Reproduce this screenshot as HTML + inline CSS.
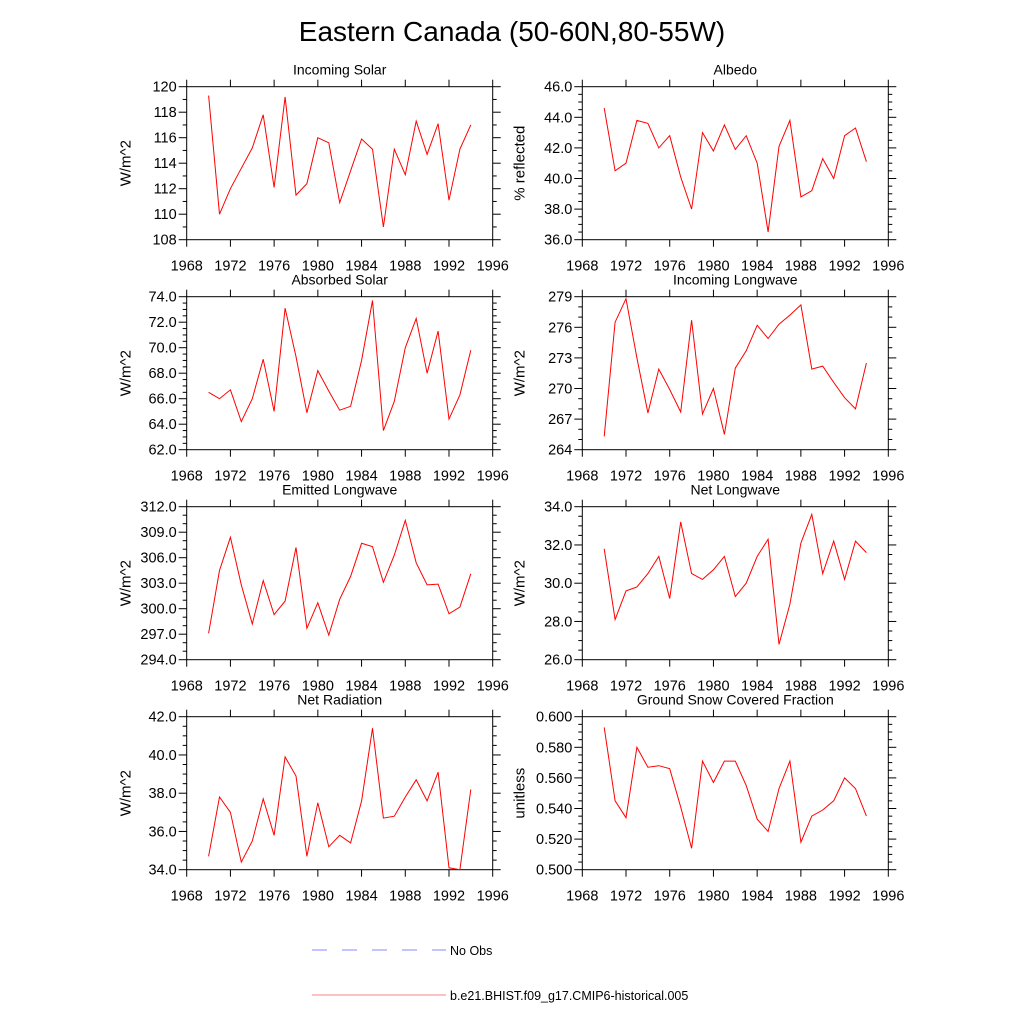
<!DOCTYPE html>
<html><head><meta charset="utf-8"><style>
html,body{margin:0;padding:0;background:#fff;}
svg{display:block;font-family:"Liberation Sans",Arial,sans-serif;}
</style></head><body>
<svg id="fig" width="1024" height="1024" viewBox="0 0 1024 1024" xmlns="http://www.w3.org/2000/svg">
<text x="512" y="41" text-anchor="middle" font-size="28">Eastern Canada (50-60N,80-55W)</text>
<g>
<line x1="312" y1="950" x2="446" y2="950" stroke="#6060ff" stroke-width="0.8" stroke-dasharray="15,15"/>
<text x="450" y="955" font-size="12.5">No Obs</text>
<line x1="312" y1="995" x2="446" y2="995" stroke="#ff8080" stroke-width="1"/>
<text x="450" y="1000" font-size="12.5">b.e21.BHIST.f09_g17.CMIP6-historical.005</text>
</g>
</svg>
<script>
const years = [1970,1971,1972,1973,1974,1975,1976,1977,1978,1979,1980,1981,1982,1983,1984,1985,1986,1987,1988,1989,1990,1991,1992,1993,1994];
const xTicks = [1968,1972,1976,1980,1984,1988,1992,1996];
const titles = ["Incoming Solar","Albedo","Absorbed Solar","Incoming Longwave","Emitted Longwave","Net Longwave","Net Radiation","Ground Snow Covered Fraction"];
const yLabels = ["W/m^2","% reflected","W/m^2","W/m^2","W/m^2","W/m^2","W/m^2","unitless"];
const incomingSolar = [119.3,110.0,112.0,113.6,115.2,117.8,112.1,119.2,111.5,112.4,116.0,115.6,110.9,113.4,115.9,115.1,109.0,115.1,113.1,117.3,114.7,117.1,111.1,115.1,117.0];
const albedo = [44.6,40.5,41.0,43.8,43.6,42.0,42.8,40.1,38.0,43.0,41.8,43.5,41.9,42.8,41.0,36.5,42.1,43.8,38.8,39.2,41.3,40.0,42.8,43.3,41.1];
const absorbedSolar = [66.5,66.0,66.7,64.2,66.0,69.1,65.0,73.1,69.3,64.9,68.2,66.6,65.1,65.4,69.0,73.7,63.5,65.8,70.0,72.3,68.0,71.3,64.4,66.3,69.8];
const incomingLW = [265.3,276.5,278.8,273.0,267.6,271.9,269.9,267.7,276.7,267.5,270.0,265.5,272.0,273.7,276.2,274.9,276.3,277.2,278.2,271.9,272.2,270.6,269.1,268.0,272.5];
const emittedLW = [297.1,304.5,308.4,302.8,298.2,303.3,299.3,300.9,307.2,297.7,300.7,296.9,301.1,303.8,307.7,307.3,303.1,306.3,310.4,305.4,302.8,302.9,299.4,300.2,304.1];
const netLW = [31.8,28.1,29.6,29.8,30.5,31.4,29.2,33.2,30.5,30.2,30.7,31.4,29.3,30.0,31.4,32.3,26.8,28.9,32.1,33.6,30.5,32.2,30.2,32.2,31.6];
const netRad = [34.7,37.8,37.0,34.4,35.5,37.7,35.8,39.9,38.9,34.7,37.5,35.2,35.8,35.4,37.6,41.4,36.7,36.8,37.8,38.7,37.6,39.1,34.1,34.0,38.2];
const snowFrac = [0.593,0.545,0.534,0.580,0.567,0.568,0.566,0.541,0.514,0.571,0.557,0.571,0.571,0.555,0.533,0.525,0.553,0.571,0.518,0.535,0.539,0.545,0.560,0.553,0.535];
const yTicks0 = [108,110,112,114,116,118,120];
const yTicks1 = [36,38,40,42,44,46];
const yTicks2 = [62,64,66,68,70,72,74];
const yTicks3 = [264,267,270,273,276,279];
const yTicks4 = [294,297,300,303,306,309,312];
const yTicks5 = [26,28,30,32,34];
const yTicks6 = [34,36,38,40,42];
const yTicks7 = [0.5,0.52,0.54,0.56,0.58,0.6];
const series = [incomingSolar,albedo,absorbedSolar,incomingLW,emittedLW,netLW,netRad,snowFrac];
const yTickSets = [yTicks0,yTicks1,yTicks2,yTicks3,yTicks4,yTicks5,yTicks6,yTicks7];
const decimals = [0,1,1,0,1,1,1,3];
const minorPer = [2,4,4,3,3,4,4,4];

const NS = "http://www.w3.org/2000/svg";
const svg = document.getElementById('fig');
function mk(tag, attrs, parent){const e=document.createElementNS(NS,tag);for(const k in attrs)e.setAttribute(k,attrs[k]);parent.appendChild(e);return e;}
const W = 306, H = 153;
for(let i=0;i<8;i++){
  const col=i%2,row=Math.floor(i/2);
  const L = col?582.3:186.7, T = 86.7+row*210;
  const ticks=yTickSets[i], ymin=ticks[0], ymax=ticks[ticks.length-1];
  const xs=v=>L+(v-1968)/(1996-1968)*W;
  const ys=v=>T+H-(v-ymin)/(ymax-ymin)*H;
  const g=mk('g',{},svg);
  
  
  const fr=mk('rect',{x:L,y:T,width:W,height:H,fill:'none',stroke:'#000','stroke-width':1},g);
  
  
  const tt=mk('text',{x:L+W/2,y:T-12,'text-anchor':'middle','font-size':14},g);
  tt.textContent=titles[i];
  
  
  const yl=mk('text',{transform:`translate(${L-(col?58:56)},${T+H/2}) rotate(-90)`,'text-anchor':'middle','font-size':15},g);
  yl.textContent=yLabels[i];
  
  
  xTicks.forEach(v=>{
    const x=xs(v);
    mk('line',{x1:x,y1:T,x2:x,y2:T-7,stroke:'#000'},g);
    mk('line',{x1:x,y1:T+H,x2:x,y2:T+H+7,stroke:'#000'},g);
    const t=mk('text',{x:x,y:T+H+31,'text-anchor':'middle','font-size':14.5},g);
    t.textContent=v;
    
    
  });
  const step=ticks[1]-ticks[0], m=minorPer[i];
  for(let k=0;k<ticks.length-1;k++){for(let j=1;j<m;j++){const y=ys(ticks[k]+step*j/m);
    mk('line',{x1:L,y1:y,x2:L-4,y2:y,stroke:'#000'},g);mk('line',{x1:L+W,y1:y,x2:L+W+4,y2:y,stroke:'#000'},g);}}
  ticks.forEach(v=>{
    const y=ys(v);
    mk('line',{x1:L,y1:y,x2:L-8,y2:y,stroke:'#000'},g);
    mk('line',{x1:L+W,y1:y,x2:L+W+8,y2:y,stroke:'#000'},g);
    const t=mk('text',{x:L-10,y:y+5,'text-anchor':'end','font-size':14.5},g);
    t.textContent=v.toFixed(decimals[i]);
    
    
  });
  const d=series[i].map((v,k)=>(k?'L':'M')+xs(years[k]).toFixed(1)+','+ys(v).toFixed(1)).join(' ');
  const p=mk('path',{d:d,fill:'none',stroke:'#ff0000','stroke-width':1},g);
  
  
}
</script>
</body></html>
